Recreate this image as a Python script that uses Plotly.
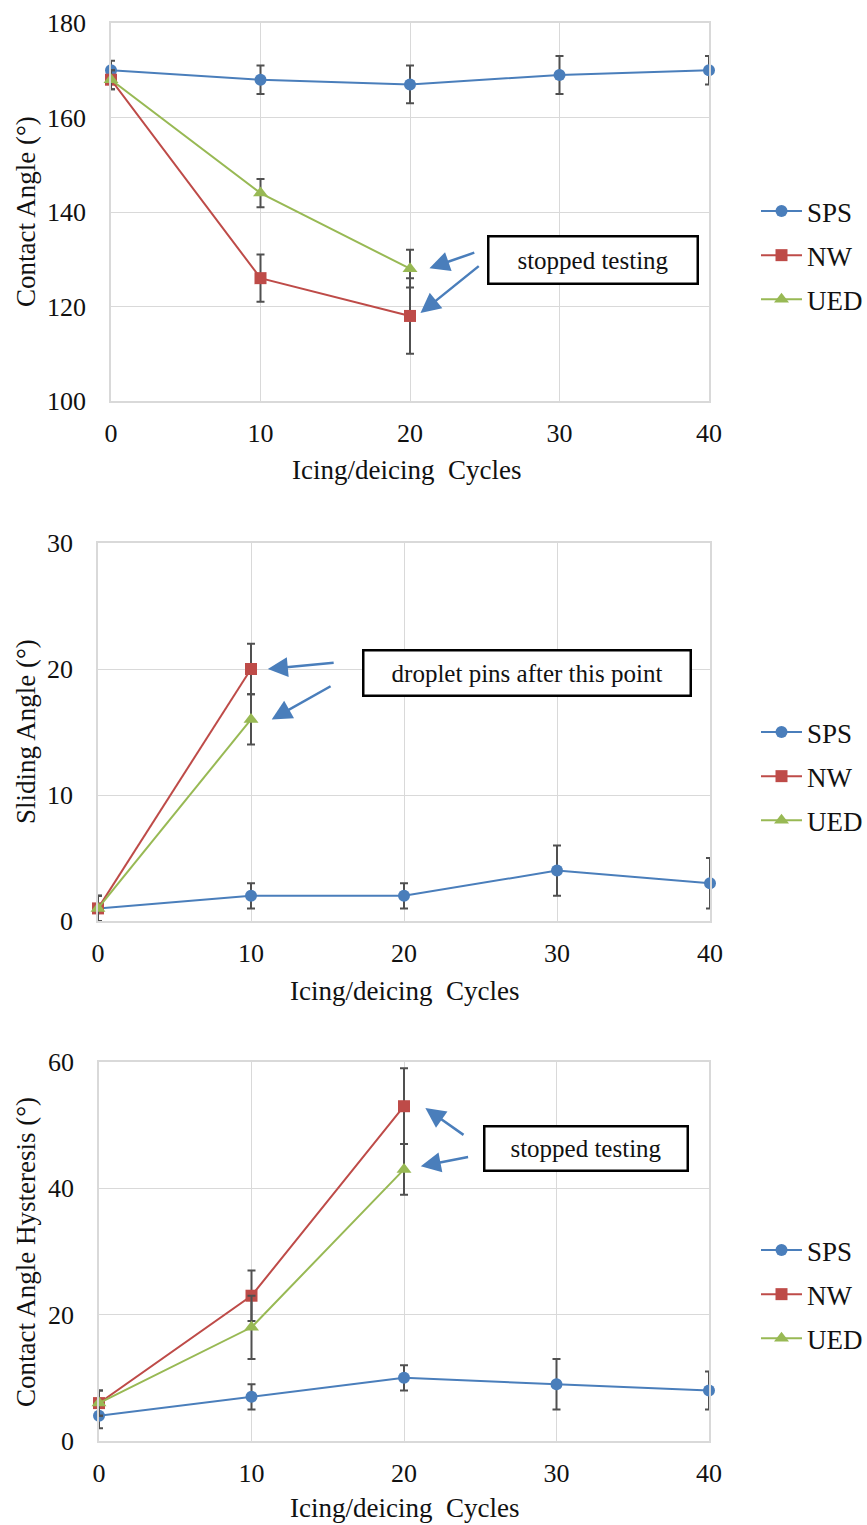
import plotly.graph_objects as go

W, H = 867, 1525

# ---------------- data ----------------
cycles = [0, 10, 20, 30, 40]
cycles_short3 = [0, 10, 20]
cycles_short2 = [0, 10]

# Contact angle
ca_sps = [170, 168, 167, 169, 170]
ca_sps_err = [2, 3, 4, 4, 3]
ca_nw = [168, 126, 118]
ca_nw_err = [2, 5, 8]
ca_ued = [168, 144, 128]
ca_ued_err = [2, 3, 4]

# Sliding angle
sa_sps = [1, 2, 2, 4, 3]
sa_sps_err = [1, 1, 1, 2, 2]
sa_nw = [1, 20]
sa_nw_err = [1, 2]
sa_ued = [1, 16]
sa_ued_err = [1, 2]

# Contact angle hysteresis
cah_sps = [4, 7, 10, 9, 8]
cah_sps_err = [2, 2, 2, 4, 3]
cah_nw = [6, 23, 53]
cah_nw_err = [2, 4, 6]
cah_ued = [6, 18, 43]
cah_ued_err = [2, 5, 4]

series_names = ["SPS", "NW", "UED"]
y_titles = ["Contact Angle (°)", "Sliding Angle (°)", "Contact Angle Hysteresis (°)"]
x_title = "Icing/deicing  Cycles"
notes = ["stopped testing", "droplet pins after this point", "stopped testing"]

# ---------------- style ----------------
FONT = "Liberation Serif"
TXT = "#111111"
C_SPS, C_NW, C_UED = "#4A7EBB", "#BE4B48", "#98B954"
ERRC = "#505050"
GRID = "#D9D9D9"


def px_x(p):
    return p / W


def px_y(p):
    return 1 - p / H


# plot areas in pixels: (x0, x1, ytop, ybottom)
areas = [
    (111, 709, 23, 401),
    (98, 710, 543, 921),
    (99, 709, 1062, 1441),
]
yranges = [[100, 180], [0, 30], [0, 60]]
ydticks = [20, 10, 20]

fig = go.Figure()

panels = [
    (cycles, ca_sps, ca_sps_err, cycles_short3, ca_nw, ca_nw_err, cycles_short3, ca_ued, ca_ued_err),
    (cycles, sa_sps, sa_sps_err, cycles_short2, sa_nw, sa_nw_err, cycles_short2, sa_ued, sa_ued_err),
    (cycles, cah_sps, cah_sps_err, cycles_short3, cah_nw, cah_nw_err, cycles_short3, cah_ued, cah_ued_err),
]
symbols = ["circle", "square", "triangle-up"]
colors = [C_SPS, C_NW, C_UED]
legend_ids = ["legend", "legend2", "legend3"]

for i, p in enumerate(panels):
    xa = "x" if i == 0 else f"x{i+1}"
    ya = "y" if i == 0 else f"y{i+1}"
    for k in range(3):
        xs, ys, es = p[3 * k], p[3 * k + 1], p[3 * k + 2]
        fig.add_trace(go.Scatter(
            x=xs, y=ys, name=series_names[k], mode="lines+markers",
            xaxis=xa, yaxis=ya, cliponaxis=False,
            line=dict(color=colors[k], width=2),
            marker=dict(symbol=symbols[k], size=12 if k < 2 else 13, color=colors[k]),
            error_y=dict(type="data", array=es, visible=True, color=ERRC, thickness=2, width=4),
            legend=legend_ids[i], legendgroup=f"{i}-{k}",
        ))

layout = dict(
    width=W, height=H,
    margin=dict(l=0, r=0, t=0, b=0, pad=0, autoexpand=False),
    paper_bgcolor="white", plot_bgcolor="white",
    font=dict(family=FONT, size=26, color=TXT),
    showlegend=True,
)

for i, (x0, x1, yt, yb) in enumerate(areas):
    sfx = "" if i == 0 else str(i + 1)
    layout[f"xaxis{sfx}"] = dict(
        domain=[px_x(x0), px_x(x1)], anchor=f"y{sfx}", range=[0, 40], dtick=10, tick0=0,
        showgrid=True, gridcolor=GRID, gridwidth=1, zeroline=False,
        showline=True, linecolor=GRID, linewidth=1.5, mirror=True, automargin=False,
        ticks="", tickfont=dict(family=FONT, size=26, color=TXT),
        ticklabelstandoff=8, fixedrange=True,
    )
    layout[f"yaxis{sfx}"] = dict(
        domain=[px_y(yb), px_y(yt)], anchor=f"x{sfx}", range=yranges[i], dtick=ydticks[i],
        showgrid=True, gridcolor=GRID, gridwidth=1, zeroline=False,
        showline=True, linecolor=GRID, linewidth=1.5, mirror=True, automargin=False,
        ticks="", tickfont=dict(family=FONT, size=26, color=TXT),
        ticklabelstandoff=18, fixedrange=True,
    )

legend_centers = [211, 732, 1250]
for i, lid in enumerate(legend_ids):
    layout[lid] = dict(
        x=px_x(756), xanchor="left", y=px_y(legend_centers[i] - 24), yanchor="top",
        font=dict(family=FONT, size=27, color=TXT),
        traceorder="grouped", tracegroupgap=6, bgcolor="rgba(0,0,0,0)",
        itemwidth=41,
    )

fig.update_layout(**layout)

annotations = []
# axis titles
ytitle_pos = [(26, 212), (26, 732), (26, 1252)]
xtitle_pos = [(406, 470), (404, 991), (404, 1508)]
for i in range(3):
    annotations.append(dict(
        text=y_titles[i], xref="paper", yref="paper", x=px_x(ytitle_pos[i][0]), y=px_y(ytitle_pos[i][1]),
        textangle=-90, showarrow=False, xanchor="center", yanchor="middle",
        font=dict(family=FONT, size=27, color=TXT),
    ))
    annotations.append(dict(
        text=x_title, xref="paper", yref="paper", x=px_x(xtitle_pos[i][0]), y=px_y(xtitle_pos[i][1]),
        showarrow=False, xanchor="center", yanchor="middle",
        font=dict(family=FONT, size=27, color=TXT),
    ))

# note boxes: center x, center y, width, height
boxes = [(592.5, 259.5, 211, 49), (527.3, 673.3, 329, 47), (585.5, 1148.5, 205, 46)]
for i, (cx, cy, bw, bh) in enumerate(boxes):
    annotations.append(dict(
        text=notes[i], xref="paper", yref="paper", x=px_x(cx), y=px_y(cy),
        showarrow=False, xanchor="center", yanchor="middle",
        width=bw - 6, height=bh - 6, borderpad=1, borderwidth=2.5, bordercolor="#000000",
        bgcolor="white", font=dict(family=FONT, size=25, color=TXT),
    ))

# arrows (tail -> head) in data coordinates of each panel
arrows = [
    ("x", "y", (24.4, 131.5), (21.3, 128.1)),
    ("x", "y", (24.7, 128.8), (20.7, 118.6)),
    ("x2", "y2", (15.5, 20.5), (11.1, 20.0)),
    ("x2", "y2", (15.3, 18.7), (11.35, 16.0)),
    ("x3", "y3", (24.0, 48.3), (21.4, 52.7)),
    ("x3", "y3", (24.3, 45.0), (21.1, 43.5)),
]
for xr, yr, tail, head in arrows:
    annotations.append(dict(
        x=head[0], y=head[1], ax=tail[0], ay=tail[1], xref=xr, yref=yr, axref=xr, ayref=yr,
        text="", showarrow=True, arrowhead=2, arrowsize=1.6, arrowwidth=2.5, arrowcolor=C_SPS,
        standoff=0, startstandoff=0,
    ))

fig.update_layout(annotations=annotations)
fig.write_html(
    "out.html",
    config={"displayModeBar": False, "staticPlot": False},
    post_script="document.body.style.margin='0';document.body.style.overflow='hidden';",
)
